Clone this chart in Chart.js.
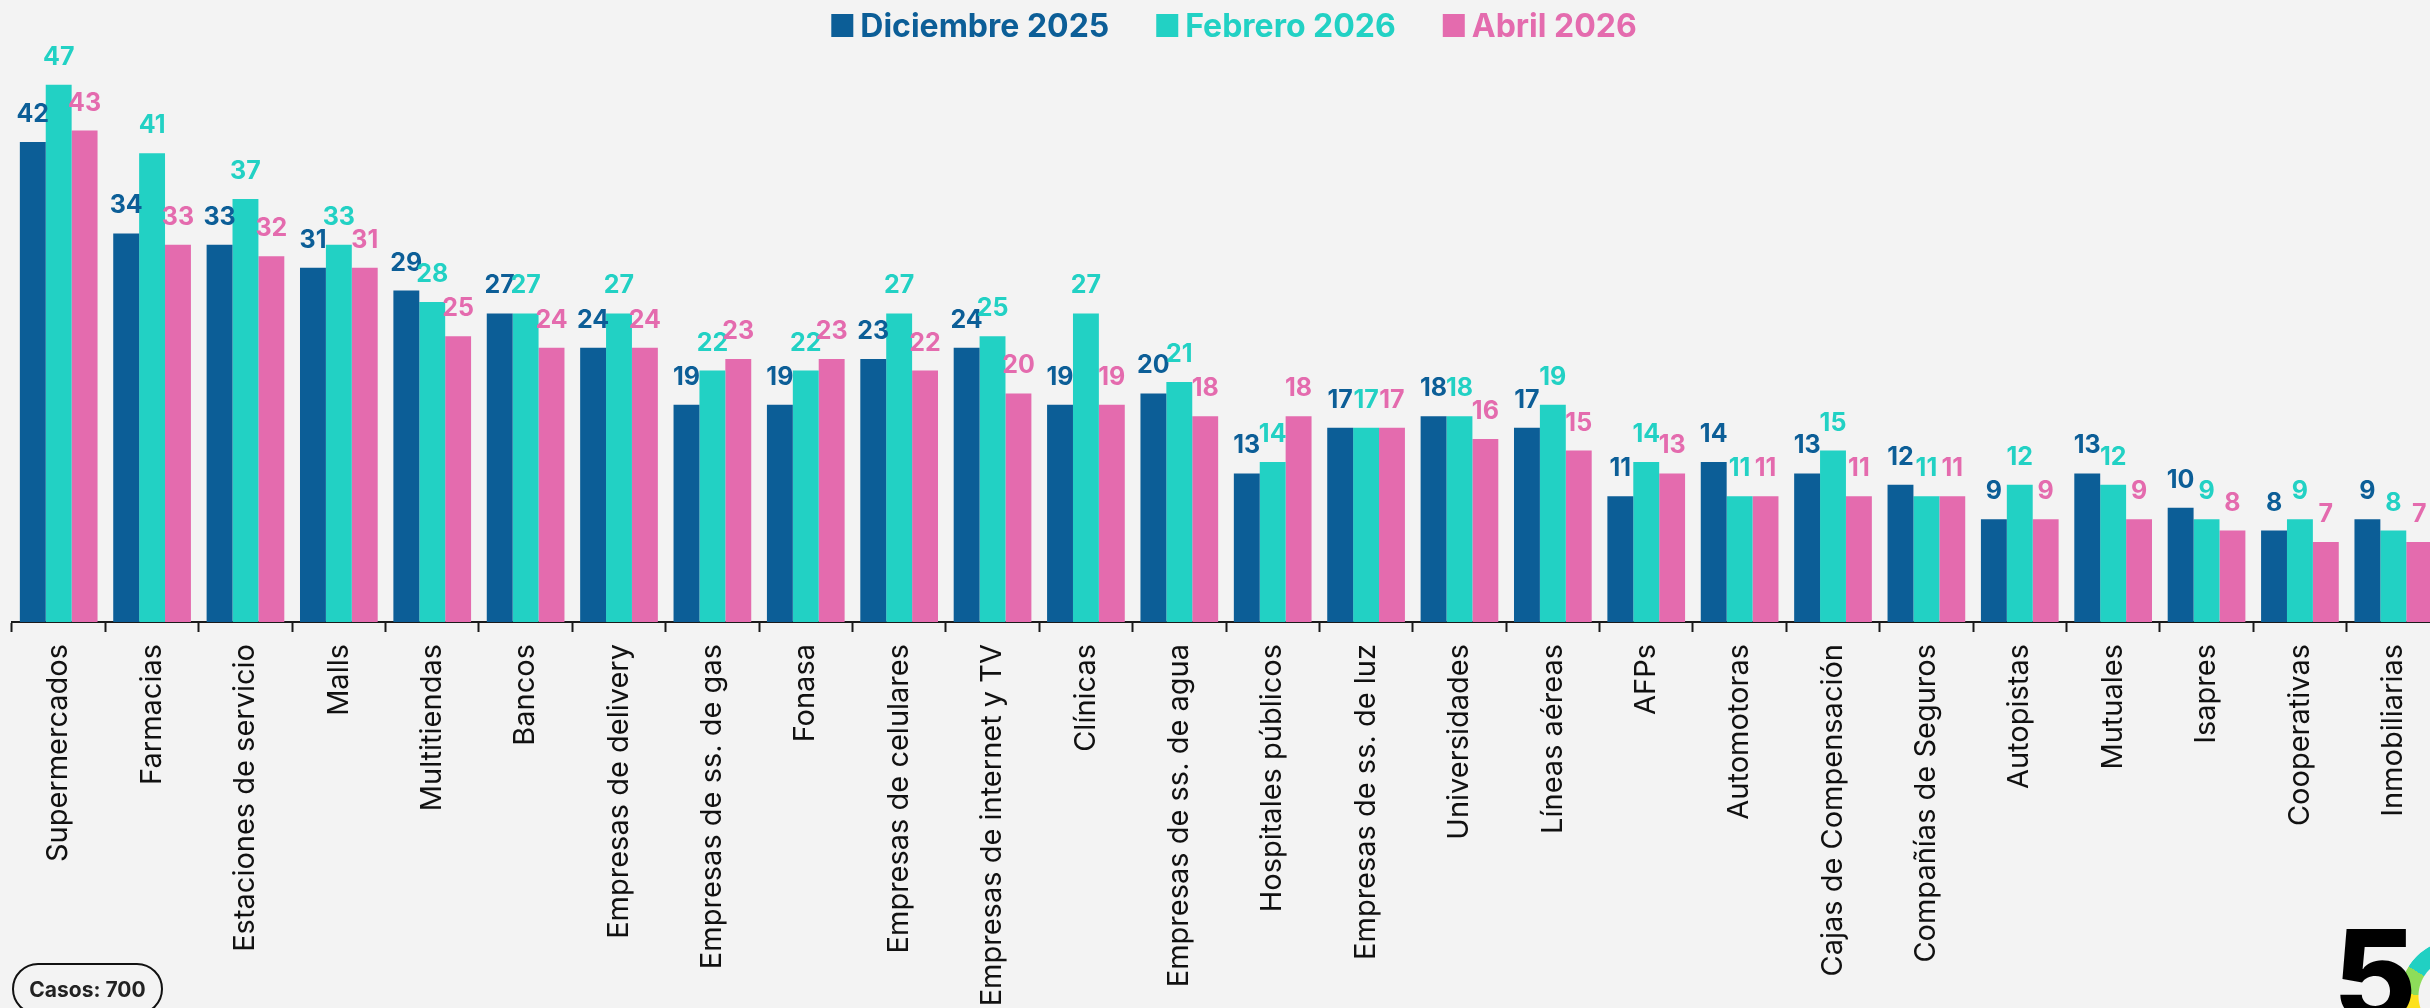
<!DOCTYPE html>
<html lang="es">
<head>
<meta charset="utf-8">
<title>Evaluación por sector</title>
<script src="https://cdn.jsdelivr.net/npm/chart.js@4.4.1/dist/chart.umd.min.js"></script>
<style>
    html, body { margin: 0; padding: 0; width: 2430px; height: 1008px; overflow: hidden; background: #f3f3f3; }
    #wrap { position: relative; width: 2430px; height: 1008px; overflow: hidden; }
    #chart { position: absolute; left: 0; top: 0; }
    .casos {
        position: absolute; left: 12px; top: 963px; width: 147px; height: 48px;
        border: 2px solid #111; border-radius: 26px;
        font: bold 21px Inter, sans-serif; color: #222;
        display: flex; align-items: center; justify-content: center; box-sizing: content-box;
    }
    .logo5 {
        position: absolute; left: 2333px; top: 912px;
        font: 800 128px Inter, sans-serif; color: #000; line-height: 1;
    }
    .ring {
        position: absolute; left: 2400px; top: 940px; width: 112px; height: 112px; border-radius: 50%;
        background: conic-gradient(#e36aad 0deg 180deg, #f06a8a 180deg 215deg, #f7a325 215deg 245deg,
            #fde11d 245deg 272deg, #8ddd5a 272deg 302deg, #21d0c3 302deg 340deg, #1aa7d8 340deg 360deg);
        -webkit-mask: radial-gradient(circle, transparent 37px, #000 38px);
        mask: radial-gradient(circle, transparent 37px, #000 38px);
    }
</style>
</head>
<body>
<div id="wrap">
    <canvas id="chart" width="2452" height="1008" style="width:2452px;height:1008px"></canvas>
    <div class="casos">Casos: 700</div>
    <div class="ring"></div>
    <div class="logo5">5</div>
</div>
<script>
//*** DATA ***//
const categories = [
    'Supermercados', 'Farmacias', 'Estaciones de servicio', 'Malls', 'Multitiendas', 'Bancos',
    'Empresas de delivery', 'Empresas de ss. de gas', 'Fonasa', 'Empresas de celulares',
    'Empresas de internet y TV', 'Clínicas', 'Empresas de ss. de agua', 'Hospitales públicos',
    'Empresas de ss. de luz', 'Universidades', 'Líneas aéreas', 'AFPs', 'Automotoras',
    'Cajas de Compensación', 'Compañías de Seguros', 'Autopistas', 'Mutuales', 'Isapres',
    'Cooperativas', 'Inmobiliarias'
];
const seriesNames = ['Diciembre 2025', 'Febrero 2026', 'Abril 2026'];
const dic2025 = [42, 34, 33, 31, 29, 27, 24, 19, 19, 23, 24, 19, 20, 13, 17, 18, 17, 11, 14, 13, 12, 9, 13, 10, 8, 9];
const feb2026 = [47, 41, 37, 33, 28, 27, 27, 22, 22, 27, 25, 27, 21, 14, 17, 18, 19, 14, 11, 15, 11, 12, 12, 9, 9, 8];
const abr2026 = [43, 33, 32, 31, 25, 24, 24, 23, 23, 22, 20, 19, 18, 18, 17, 16, 15, 13, 11, 11, 11, 9, 9, 8, 7, 7];
const colors = ['#0c5e97', '#22d1c4', '#e46bae'];

const FONT = 'Inter, "Open Sans", sans-serif';


//*** PLUGINS ***//
// numbers above each bar
const valueLabels = {
    id: 'valueLabels',
    afterDatasetsDraw(chart) {
        const ctx = chart.ctx;
        ctx.save();
        ctx.font = 'bold 25px ' + FONT;
        ctx.textAlign = 'center';
        ctx.textBaseline = 'alphabetic';
        chart.data.datasets.forEach((ds, i) => {
            ctx.fillStyle = ds.backgroundColor;
            chart.getDatasetMeta(i).data.forEach((bar, j) => {
                ctx.fillText(ds.data[j], bar.x, bar.y - 20);
            });
        });
        ctx.restore();
    }
};

// legend row at the top, text coloured like the series
const topLegend = {
    id: 'topLegend',
    afterDraw(chart) {
        const ctx = chart.ctx;
        const box = 22, gapText = 7, gapItem = 47, centerX = 1234, midY = 26;
        ctx.save();
        ctx.font = 'bold 32px ' + FONT;
        ctx.textBaseline = 'middle';
        const widths = chart.data.datasets.map(ds => box + gapText + ctx.measureText(ds.label).width);
        const total = widths.reduce((a, b) => a + b, 0) + gapItem * (widths.length - 1);
        let x = centerX - total / 2;
        chart.data.datasets.forEach((ds, i) => {
            ctx.fillStyle = ds.backgroundColor;
            ctx.fillRect(x, midY - 12, box, 23);
            ctx.fillText(ds.label, x + box + gapText, midY + 1);
            x += widths[i] + gapItem;
        });
        ctx.restore();
    }
};


//*** CHART ***//
new Chart(document.getElementById('chart'), {
    type: 'bar',
    data: {
        labels: categories,
        datasets: [dic2025, feb2026, abr2026].map((values, i) => ({
            label: seriesNames[i],
            data: values,
            backgroundColor: colors[i],
            borderWidth: 0,
            categoryPercentage: 0.832,
            barPercentage: 1
        }))
    },
    options: {
        responsive: false,
        animation: false,
        devicePixelRatio: 1,
        layout: { padding: { top: 0, left: 12, right: 12, bottom: 0 } },
        plugins: {
            legend: { display: false },
            tooltip: { enabled: false }
        },
        scales: {
            y: {
                display: false,
                min: 0,
                max: 622 / 11.43
            },
            x: {
                afterFit: (axis) => { axis.height = 386; },
                border: { display: true, color: '#1a1a1a', width: 2 },
                grid: {
                    display: true,
                    drawOnChartArea: false,
                    drawTicks: true,
                    tickLength: 10,
                    tickWidth: 2,
                    color: '#1a1a1a'
                },
                ticks: {
                    autoSkip: false,
                    maxRotation: 90,
                    minRotation: 90,
                    padding: 12,
                    color: '#111',
                    font: { family: FONT, size: 29 }
                }
            }
        }
    },
    plugins: [valueLabels, topLegend]
});
</script>
</body>
</html>
